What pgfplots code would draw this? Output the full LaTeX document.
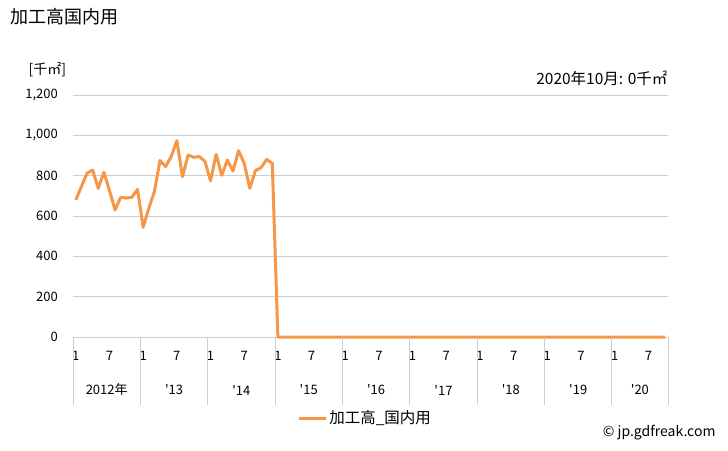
\documentclass[border=0pt]{standalone}
\usepackage{fontspec}
\setmainfont{Noto Sans CJK JP}
\usepackage{pgfplots}
\pgfplotsset{compat=1.18}
\definecolor{lineorange}{RGB}{247,150,70}
\definecolor{gridgray}{RGB}{205,205,205}

\begin{document}
\begin{tikzpicture}
\path[use as bounding box] (0,0) rectangle (728pt,-450pt);

\node[anchor=west, font=\fontsize{18}{20}\selectfont] at (7pt,-17pt) {加工高国内用};
\node[anchor=west, font=\fontsize{14}{16}\selectfont] at (25pt,-70pt) {[千㎡]};
\node[anchor=east, font=\fontsize{15.5}{17}\selectfont] at (671pt,-78pt) {2020年10月: 0千㎡};
\node[anchor=east, font=\fontsize{14}{16}\selectfont] at (719pt,-433pt) {© jp.gdfreak.com};

\begin{axis}[
    at={(73pt,-337pt)}, anchor=south west,
    width=595pt, height=242pt, scale only axis,
    xmin=-0.5, xmax=105.5,
    ymin=0, ymax=1200,
    ytick={0,200,...,1200},
    xtick={0,6,...,102},
    xticklabels={1,7,1,7,1,7,1,7,1,7,1,7,1,7,1,7,1,7},
    major tick length=0pt,
    axis line style={draw=none},
    ymajorgrids, grid style={gridgray, line width=0.8pt},
    /pgf/number format/assume math mode=true,
    /pgf/number format/1000 sep={,},
    yticklabel style={anchor=east, inner sep=0pt, xshift=-15pt, font=\fontsize{13}{15}\selectfont},
    xticklabel style={anchor=center, inner sep=0pt, yshift=-19pt, font=\fontsize{13}{15}\selectfont},
    legend style={at={(0.491,-0.335)}, anchor=center, draw=none, fill=none,
        font=\fontsize{15.5}{17}\selectfont},
    legend image code/.code={\draw[#1] (0pt,0pt) -- (27pt,0pt);},
    clip=false,
]
\addplot[lineorange, line width=3pt, line join=round] coordinates {
(0,680) (1,746) (2,812) (3,828) (4,737) (5,817) (6,726) (7,630) (8,693) (9,689)
(10,693) (11,732) (12,544) (13,638) (14,721) (15,875) (16,845) (17,895) (18,974) (19,795)
(20,903) (21,891) (22,895) (23,871) (24,774) (25,906) (26,802) (27,878) (28,823) (29,924)
(30,861) (31,737) (32,825) (33,840) (34,881) (35,861) (36,0) (37,0) (38,0) (39,0)
(40,0) (41,0) (42,0) (43,0) (44,0) (45,0) (46,0) (47,0) (48,0) (49,0)
(50,0) (51,0) (52,0) (53,0) (54,0) (55,0) (56,0) (57,0) (58,0) (59,0)
(60,0) (61,0) (62,0) (63,0) (64,0) (65,0) (66,0) (67,0) (68,0) (69,0)
(70,0) (71,0) (72,0) (73,0) (74,0) (75,0) (76,0) (77,0) (78,0) (79,0)
(80,0) (81,0) (82,0) (83,0) (84,0) (85,0) (86,0) (87,0) (88,0) (89,0)
(90,0) (91,0) (92,0) (93,0) (94,0) (95,0) (96,0) (97,0) (98,0) (99,0)
(100,0) (101,0) (102,0) (103,0) (104,0) (105,0)
};
\addlegendentry{加工高\_国内用}

\pgfplotsinvokeforeach{-0.5,11.5,23.5,35.5,47.5,59.5,71.5,83.5,95.5,105.5}{
  \draw[gridgray, line width=0.8pt] (axis cs:#1,0) -- ++(0pt,-68pt);
}
\begin{scope}[font=\fontsize{13}{15}\selectfont]
\node at (axis cs:5.5,0) [yshift=-53pt] {2012年};
\node at (axis cs:17.5,0) [yshift=-53pt] {\textquotesingle 13};
\node at (axis cs:29.5,0) [yshift=-53pt] {\textquotesingle 14};
\node at (axis cs:41.5,0) [yshift=-53pt] {\textquotesingle 15};
\node at (axis cs:53.5,0) [yshift=-53pt] {\textquotesingle 16};
\node at (axis cs:65.5,0) [yshift=-53pt] {\textquotesingle 17};
\node at (axis cs:77.5,0) [yshift=-53pt] {\textquotesingle 18};
\node at (axis cs:89.5,0) [yshift=-53pt] {\textquotesingle 19};
\node at (axis cs:100.5,0) [yshift=-53pt] {\textquotesingle 20};
\end{scope}
\end{axis}
\end{tikzpicture}
\end{document}
